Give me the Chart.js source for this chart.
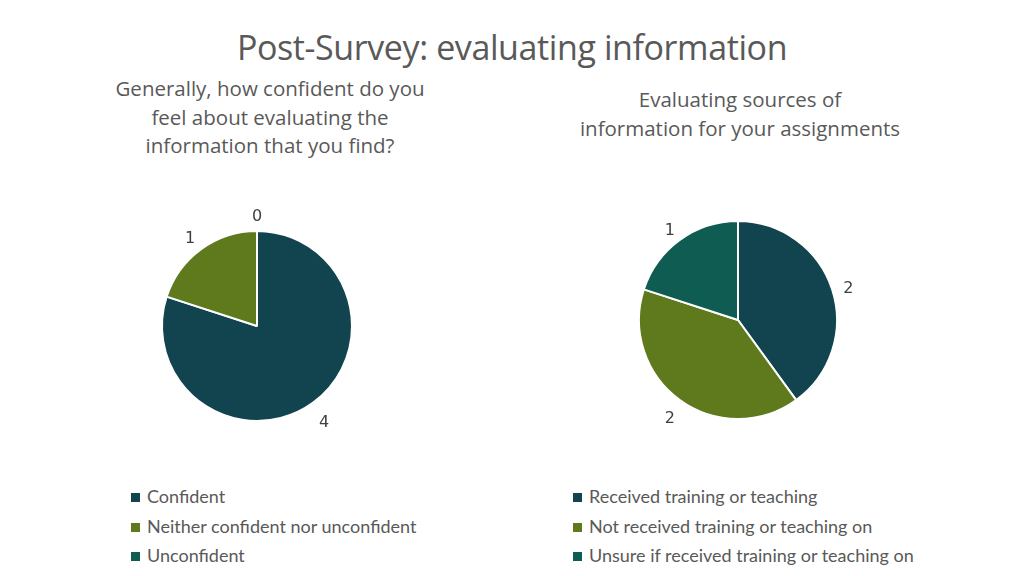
<!DOCTYPE html>
<html>
<head>
<meta charset="utf-8">
<script src="https://cdn.jsdelivr.net/npm/chart.js@4"></script>
<style>
  html, body { margin: 0; padding: 0; background: #fff; }
  body { width: 1024px; height: 576px; position: relative; overflow: hidden; font-family: "Open Sans", Lato, sans-serif; color: #595959; }
  .title { position: absolute; left: 0; width: 1024px; top: 25px; text-align: center; font-family: "Open Sans", sans-serif; font-size: 34px; line-height: 44px; color: #595959; letter-spacing: -0.4px; }
  .sub { position: absolute; text-align: center; font-family: "Open Sans", sans-serif; font-size: 20.5px; line-height: 28.5px; color: #595959; }
  .box { position: absolute; }
  .legend { position: absolute; font-family: Lato, "Open Sans", sans-serif; font-size: 18px; color: #595959; }
  .legend div { height: 29.5px; line-height: 20px; white-space: nowrap; }
  .legend span.sw { display: inline-block; width: 9px; height: 9px; margin-right: 7px; vertical-align: 1px; }
</style>
</head>
<body>
<div class="title">Post-Survey: evaluating information</div>
<div class="sub" style="left:100px; width:340px; top:74px;">Generally, how confident do you<br>feel about evaluating the<br>information that you find?</div>
<div class="sub" style="left:560px; width:360px; top:85px;">Evaluating sources of<br>information for your assignments</div>

<div class="box" style="left:107px; top:176px; width:300px; height:300px;"><canvas id="confidence-chart"></canvas></div>
<div class="box" style="left:588px; top:170px; width:300px; height:300px;"><canvas id="sources-chart"></canvas></div>

<div class="legend" id="confidence-legend" style="left:131px; top:486px;"></div>
<div class="legend" id="sources-legend" style="left:573px; top:486px;"></div>

<script>
// Post-survey pies

const confidenceLabels = ['Confident', 'Neither confident nor unconfident', 'Unconfident'];
const confidenceValues = [4, 1, 0];

const sourcesLabels = ['Received training or teaching', 'Not received training or teaching on', 'Unsure if received training or teaching on'];
const sourcesValues = [2, 2, 1];

const sliceColors = ['#12444f', '#5e7a1c', '#0e5c52'];

// --- value labels drawn just outside each slice ---

const outsideLabels = {
  id: 'outsideLabels',
  afterDatasetsDraw(chart, args, opts) {
    const ctx = chart.ctx;
    const meta = chart.getDatasetMeta(0);
    const values = chart.data.datasets[0].data;
    ctx.save();
    ctx.font = '16px "DejaVu Sans", sans-serif';
    ctx.fillStyle = '#404040';
    ctx.textAlign = 'center';
    ctx.textBaseline = 'middle';
    meta.data.forEach((arc, i) => {
      const p = arc.getProps(['x', 'y', 'startAngle', 'endAngle', 'outerRadius'], true);
      const mid = (p.startAngle + p.endAngle) / 2;
      const r = p.outerRadius + (opts.offset || 16);
      ctx.fillText(String(values[i]), p.x + Math.cos(mid) * r, p.y + Math.sin(mid) * r + 5);
    });
    ctx.restore();
  }
};

function renderPie(canvasId, legendId, labels, values, pad, offset) {
  const ctx = document.getElementById(canvasId).getContext('2d');
  const chart = new Chart(ctx, {
    type: 'pie',
    data: {
      labels: labels,
      datasets: [{
        data: values,
        backgroundColor: sliceColors,
        borderColor: '#ffffff',
        borderWidth: 2
      }]
    },
    options: {
      responsive: true,
      maintainAspectRatio: false,
      animation: false,
      layout: { padding: pad },
      plugins: {
        legend: { display: false },
        tooltip: { enabled: false },
        outsideLabels: { offset: offset }
      }
    },
    plugins: [outsideLabels]
  });

  // html legend, one row per item
  const items = chart.options.plugins.legend.labels.generateLabels(chart);
  document.getElementById(legendId).innerHTML = items.map(it =>
    `<div><span class="sw" style="background:${it.fillStyle}"></span>${it.text}</div>`
  ).join('');
}

renderPie('confidence-chart', 'confidence-legend', confidenceLabels, confidenceValues, 54, 19);
renderPie('sources-chart', 'sources-legend', sourcesLabels, sourcesValues, 50, 17);
</script>
</body>
</html>
